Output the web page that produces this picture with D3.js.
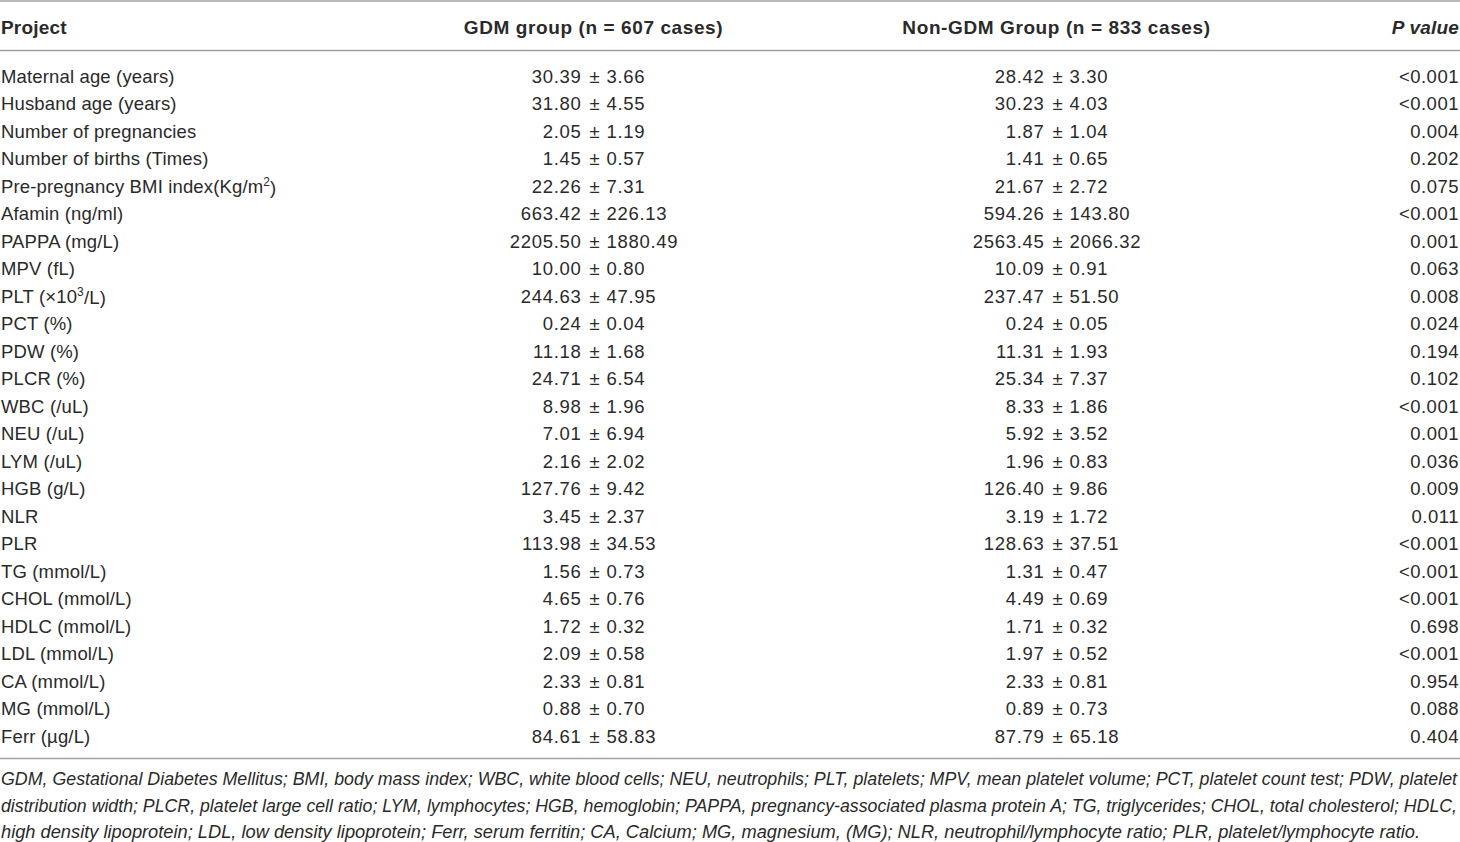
<!DOCTYPE html>
<html>
<head>
<meta charset="utf-8">
<script src="https://cdn.jsdelivr.net/npm/d3@7"></script>
<style>
  html, body { margin: 0; padding: 0; background: #fff; }
  svg { display: block; }
  text { font-family: "Liberation Sans", "Arial", sans-serif; fill: #2a2a2a; }
</style>
</head>
<body>
<svg width="1460" height="842"></svg>
<script>
// table content
const headers = ["Project", "GDM group (n = 607 cases)", "Non-GDM Group (n = 833 cases)", "P value"];

const projects = [
  "Maternal age (years)", "Husband age (years)", "Number of pregnancies", "Number of births (Times)",
  "Pre-pregnancy BMI index(Kg/m^2)", "Afamin (ng/ml)", "PAPPA (mg/L)", "MPV (fL)", "PLT (×10^3/L)",
  "PCT (%)", "PDW (%)", "PLCR (%)", "WBC (/uL)", "NEU (/uL)", "LYM (/uL)", "HGB (g/L)", "NLR", "PLR",
  "TG (mmol/L)", "CHOL (mmol/L)", "HDLC (mmol/L)", "LDL (mmol/L)", "CA (mmol/L)", "MG (mmol/L)", "Ferr (µg/L)"
];

const gdmMean = [30.39, 31.80, 2.05, 1.45, 22.26, 663.42, 2205.50, 10.00, 244.63, 0.24, 11.18, 24.71, 8.98, 7.01, 2.16, 127.76, 3.45, 113.98, 1.56, 4.65, 1.72, 2.09, 2.33, 0.88, 84.61];
const gdmSd   = [3.66, 4.55, 1.19, 0.57, 7.31, 226.13, 1880.49, 0.80, 47.95, 0.04, 1.68, 6.54, 1.96, 6.94, 2.02, 9.42, 2.37, 34.53, 0.73, 0.76, 0.32, 0.58, 0.81, 0.70, 58.83];

const nonMean = [28.42, 30.23, 1.87, 1.41, 21.67, 594.26, 2563.45, 10.09, 237.47, 0.24, 11.31, 25.34, 8.33, 5.92, 1.96, 126.40, 3.19, 128.63, 1.31, 4.49, 1.71, 1.97, 2.33, 0.89, 87.79];
const nonSd   = [3.30, 4.03, 1.04, 0.65, 2.72, 143.80, 2066.32, 0.91, 51.50, 0.05, 1.93, 7.37, 1.86, 3.52, 0.83, 9.86, 1.72, 37.51, 0.47, 0.69, 0.32, 0.52, 0.81, 0.73, 65.18];

const pValues = ["<0.001", "<0.001", "0.004", "0.202", "0.075", "<0.001", "0.001", "0.063", "0.008", "0.024",
  "0.194", "0.102", "<0.001", "0.001", "0.036", "0.009", "0.011", "<0.001", "<0.001", "<0.001",
  "0.698", "<0.001", "0.954", "0.088", "0.404"];

const footnotes = [
  "GDM, Gestational Diabetes Mellitus; BMI, body mass index; WBC, white blood cells; NEU, neutrophils; PLT, platelets; MPV, mean platelet volume; PCT, platelet count test; PDW, platelet",
  "distribution width; PLCR, platelet large cell ratio; LYM, lymphocytes; HGB, hemoglobin; PAPPA, pregnancy-associated plasma protein A; TG, triglycerides; CHOL, total cholesterol; HDLC,",
  "high density lipoprotein; LDL, low density lipoprotein; Ferr, serum ferritin; CA, Calcium; MG, magnesium, (MG); NLR, neutrophil/lymphocyte ratio; PLR, platelet/lymphocyte ratio."
];
const footWidths = [1457, 1457, 1420];

const svg = d3.select("svg");
const fmt = d3.format(".2f");

const rows = projects.map((p, i) => ({
  project: p,
  gdm: [fmt(gdmMean[i]), fmt(gdmSd[i])],
  non: [fmt(nonMean[i]), fmt(nonSd[i])],
  p: pValues[i]
}));

// row positions
const y = d3.scaleBand()
  .domain(d3.range(rows.length))
  .range([62.5, 750])
  .padding(0);

// column anchors (value columns are lined up on the ± sign)
const colKeys = ["project", "gdm", "non", "p"];
const x = d3.scaleOrdinal().domain(colKeys).range([1, 594.5, 1057.5, 1459]);
const headX = d3.scaleOrdinal().domain(colKeys).range([1, 593.5, 1056.5, 1459]);
const anchor = d3.scaleOrdinal().domain(colKeys).range(["start", "middle", "middle", "end"]);

// rules
const rules = [1, 50.5, 758.5];
svg.selectAll(".rule")
  .data(rules)
  .enter().append("line")
  .attr("class", "rule")
  .attr("x1", 0).attr("x2", 1460)
  .attr("y1", d => d).attr("y2", d => d)
  .attr("stroke", "#a0a0a0")
  .attr("stroke-width", 1.6);

// header
svg.selectAll(".head")
  .data(colKeys)
  .enter().append("text")
  .attr("class", "head")
  .attr("x", d => headX(d))
  .attr("y", 27)
  .attr("dy", "0.35em")
  .attr("text-anchor", d => anchor(d))
  .attr("font-size", 19)
  .attr("font-weight", "bold")
  .attr("letter-spacing", (d, i) => i === 0 || i === 3 ? 0.2 : 0.6)
  .attr("font-style", (d, i) => i === 3 ? "italic" : "normal")
  .text((d, i) => headers[i]);

// body rows
const row = svg.selectAll(".row")
  .data(rows)
  .enter().append("g")
  .attr("class", "row")
  .attr("transform", (d, i) => `translate(0,${y(i) + y.bandwidth() / 2})`)
  .attr("font-size", 18.5);

// project names, with superscripts for m^2 and 10^3
row.append("text")
  .attr("x", x("project"))
  .attr("dy", "0.35em")
  .attr("letter-spacing", 0.15)
  .each(function (d) {
    const t = d3.select(this);
    const parts = d.project.split("^");
    if (parts.length === 1) {
      t.text(d.project);
    } else {
      t.append("tspan").text(parts[0]);
      t.append("tspan").attr("font-size", 12).attr("dy", "-0.6em").text(parts[1][0]);
      t.append("tspan").attr("dy", "0.45em").text(parts[1].slice(1));
    }
  });

// mean ± sd columns
["gdm", "non"].forEach(k => {
  const cell = row.append("g").attr("transform", `translate(${x(k)},0)`);
  cell.append("text")
    .attr("x", -13).attr("dy", "0.35em")
    .attr("text-anchor", "end")
    .attr("letter-spacing", 0.7)
    .text(d => d[k][0]);
  cell.append("text")
    .attr("x", 0).attr("dy", "0.35em")
    .attr("text-anchor", "middle")
    .text("±");
  cell.append("text")
    .attr("x", 12).attr("dy", "0.35em")
    .attr("text-anchor", "start")
    .attr("letter-spacing", 0.7)
    .text(d => d[k][1]);
});

// p values
row.append("text")
  .attr("x", x("p"))
  .attr("dy", "0.35em")
  .attr("text-anchor", "end")
  .attr("letter-spacing", 0.5)
  .text(d => d.p);

// footnote
svg.selectAll(".foot")
  .data(footnotes)
  .enter().append("text")
  .attr("class", "foot")
  .attr("x", 1)
  .attr("y", (d, i) => 779 + i * 26.5)
  .attr("dy", "0.35em")
  .attr("font-size", 17.5)
  .attr("font-style", "italic")
  .attr("textLength", (d, i) => footWidths[i] - 1)
  .attr("lengthAdjust", "spacingAndGlyphs")
  .text(d => d);
</script>
</body>
</html>
